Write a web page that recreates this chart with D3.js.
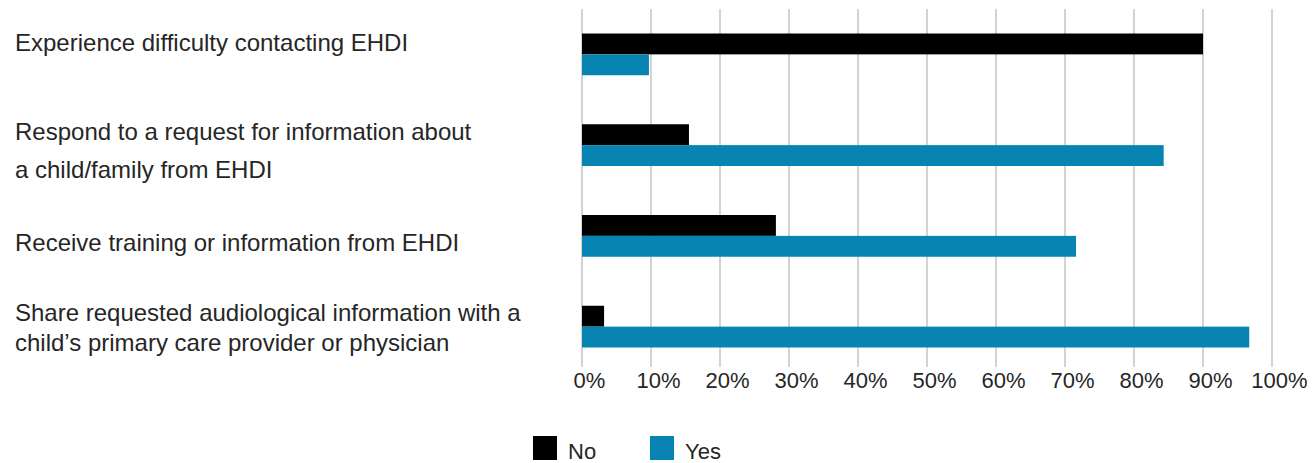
<!DOCTYPE html>
<html>
  <head>
    <meta charset="UTF-8" />
    <title>EHDI survey</title>
    <style>
      body { margin: 0; background: #fff; }
      text { font-family: "Liberation Sans", Arial, sans-serif; fill: #262626; }
    </style>
  </head>
  <body>
    <script src="https://cdn.jsdelivr.net/npm/d3@7/dist/d3.min.js"></script>
    <script>
      var categories = [
        ["Experience difficulty contacting EHDI"],
        ["Respond to a request for information about", "a child/family from EHDI"],
        ["Receive training or information from EHDI"],
        ["Share requested audiological information with a", "child\u2019s primary care provider or physician"]
      ];
      var seriesNames = ["No", "Yes"];
      var noValues = [90.0, 15.5, 28.1, 3.2];
      var yesValues = [9.7, 84.3, 71.6, 96.7];
      var tickValues = [0, 10, 20, 30, 40, 50, 60, 70, 80, 90, 100];
      var colors = ["#000000", "#0784b2"];

      var width = 1312, height = 463;
      var plotLeft = 582, plotRight = 1272, plotTop = 9, plotBottom = 372;
      // label nudges and line gaps copied from the original layout
      var labelShift = [-12, 5, 7, 1];
      var lineGap = [0, 38, 0, 30];

      var svg = d3.select("body").append("svg")
        .attr("width", width)
        .attr("height", height);

      var x = d3.scaleLinear().domain([0, 100]).range([plotLeft, plotRight]);
      var y = d3.scaleBand().domain(d3.range(categories.length)).range([plotTop, plotBottom]).paddingInner(0.54).paddingOuter(0.27);
      var ySeries = d3.scaleBand().domain(seriesNames).range([0, y.bandwidth()]);

      // gridlines
      svg.append("g")
        .selectAll("line")
        .data(tickValues)
        .enter()
        .append("line")
        .attr("x1", function(d) { return x(d); })
        .attr("x2", function(d) { return x(d); })
        .attr("y1", plotTop)
        .attr("y2", plotBottom - 5)
        .style("stroke", "#c4c4c4")
        .style("stroke-width", 1.5);

      var xAxis = d3.axisBottom(x)
        .tickValues(tickValues)
        .tickSize(0)
        .tickPadding(0)
        .tickFormat(function(d) { return d + "%"; });

      var axisG = svg.append("g")
        .attr("transform", "translate(7," + (plotBottom + 16) + ")")
        .call(xAxis);
      axisG.select(".domain").remove();
      axisG.selectAll("text")
        .attr("y", 0)
        .attr("dy", "0")
        .style("font-size", "22px")
        .style("font-family", "\"Liberation Sans\", Arial, sans-serif")
        .style("fill", "#262626");

      var rows = categories.map(function(c, i) {
        return { i: i, values: [noValues[i], yesValues[i]] };
      });

      var barGroup = svg.append("g");
      rows.forEach(function(r) {
        barGroup.selectAll(null)
          .data(r.values)
          .enter()
          .append("rect")
          .attr("x", x(0))
          .attr("y", function(d, j) { return y(r.i) + ySeries(seriesNames[j]); })
          .attr("width", function(d) { return x(d) - x(0); })
          .attr("height", ySeries.bandwidth())
          .style("fill", function(d, j) { return colors[j]; });
      });

      // category labels
      var labelG = svg.append("g");
      categories.forEach(function(lines, i) {
        var cy = y(i) + y.bandwidth() / 2 + labelShift[i];
        var lh = lineGap[i];
        var t = labelG.append("text")
          .attr("x", 15)
          .style("font-size", "24px");
        lines.forEach(function(line, k) {
          t.append("tspan")
            .attr("x", 15)
            .attr("y", cy - lh / 2 + k * lh)
            .attr("dy", "0.35em")
            .text(line);
        });
      });

      // legend
      var legend = svg.append("g");
      var legendX = [533, 650];
      seriesNames.forEach(function(name, j) {
        legend.append("rect")
          .attr("x", legendX[j])
          .attr("y", 436)
          .attr("width", 24)
          .attr("height", 24)
          .style("fill", colors[j]);
        legend.append("text")
          .attr("x", legendX[j] + 35)
          .attr("y", 451)
          .attr("dy", "0.35em")
          .style("font-size", "22px")
          .text(name);
      });
    </script>
  </body>
</html>
